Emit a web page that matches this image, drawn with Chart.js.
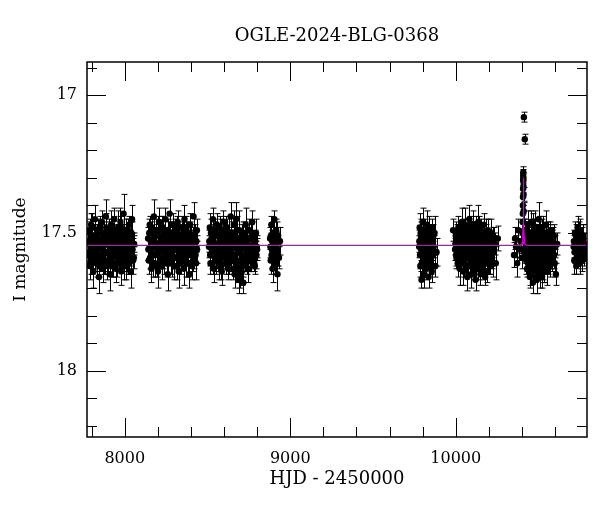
<!DOCTYPE html>
<html>
<head>
<meta charset="utf-8">
<script src="https://cdn.jsdelivr.net/npm/chart.js@4/dist/chart.umd.min.js"></script>
<style>
  html, body { margin: 0; padding: 0; background: #fff; }
</style>
</head>
<body>
<canvas id="myChart" width="600" height="512"></canvas>
<script>
// OGLE-2024-BLG-0368, I-band photometry (HJD - 2450000, mag, error), one set per season
var s1Hjd = [7779, 7783, 7788, 7792, 7797, 7802, 7806, 7811, 7816, 7820,
    7825, 7830, 7834, 7839, 7844, 7848, 7853, 7858, 7862, 7867,
    7872, 7876, 7881, 7886, 7890, 7895, 7900, 7904, 7909, 7914,
    7918, 7923, 7928, 7932, 7937, 7942, 7946, 7951, 7956, 7960,
    7965, 7970, 7974, 7979, 7984, 7988, 7993, 7998, 8002, 8007,
    8012, 8016, 8021, 8026, 8030, 8035, 8040, 8044, 8050, 8057,
    7781, 7786, 7790, 7795, 7799, 7804, 7808, 7813, 7818, 7823,
    7827, 7832, 7836, 7841, 7846, 7851, 7855, 7860, 7865, 7869,
    7874, 7879, 7883, 7888, 7893, 7897, 7902, 7907, 7911, 7916,
    7921, 7925, 7930, 7935, 7939, 7944, 7949, 7953, 7958, 7963,
    7967, 7972, 7977, 7981, 7986, 7991, 7995, 8000, 8005, 8009,
    8014, 8019, 8023, 8028, 8033, 8037, 8042, 8047, 8053, 8055];
var s1Mag = [17.58, 17.49, 17.62, 17.53, 17.47, 17.60, 17.55, 17.64, 17.51, 17.45,
    17.57, 17.61, 17.50, 17.54, 17.66, 17.48, 17.59, 17.52, 17.46, 17.63,
    17.55, 17.50, 17.60, 17.44, 17.57, 17.62, 17.53, 17.49, 17.65, 17.56,
    17.47, 17.59, 17.52, 17.61, 17.45, 17.54, 17.63, 17.50, 17.58, 17.48,
    17.60, 17.53, 17.46, 17.64, 17.51, 17.57, 17.43, 17.62, 17.55, 17.49,
    17.59, 17.52, 17.61, 17.47, 17.56, 17.64, 17.50, 17.45, 17.60, 17.54,
    17.53, 17.57, 17.50, 17.61, 17.55, 17.48, 17.59, 17.52, 17.56, 17.60,
    17.51, 17.54, 17.58, 17.49, 17.62, 17.53, 17.56, 17.50, 17.59, 17.55,
    17.61, 17.52, 17.57, 17.48, 17.54, 17.60, 17.51, 17.58, 17.53, 17.56,
    17.50, 17.62, 17.55, 17.49, 17.58, 17.52, 17.57, 17.61, 17.54, 17.51,
    17.56, 17.59, 17.48, 17.53, 17.60, 17.55, 17.51, 17.58, 17.62, 17.52,
    17.57, 17.49, 17.55, 17.61, 17.53, 17.58, 17.51, 17.56, 17.54, 17.59];
var s1Err = [0.04, 0.03, 0.05, 0.04, 0.04, 0.05, 0.03, 0.06, 0.04, 0.05,
    0.04, 0.05, 0.03, 0.04, 0.06, 0.04, 0.05, 0.03, 0.04, 0.05,
    0.03, 0.04, 0.05, 0.06, 0.04, 0.05, 0.03, 0.04, 0.06, 0.04,
    0.05, 0.04, 0.03, 0.05, 0.04, 0.04, 0.05, 0.03, 0.04, 0.06,
    0.04, 0.03, 0.05, 0.05, 0.04, 0.04, 0.07, 0.05, 0.03, 0.04,
    0.05, 0.04, 0.04, 0.03, 0.04, 0.06, 0.04, 0.05, 0.05, 0.04,
    0.04, 0.04, 0.05, 0.04, 0.03, 0.05, 0.04, 0.04, 0.05, 0.04,
    0.03, 0.04, 0.05, 0.04, 0.04, 0.05, 0.04, 0.03, 0.04, 0.05,
    0.04, 0.04, 0.03, 0.05, 0.04, 0.04, 0.05, 0.04, 0.03, 0.04,
    0.05, 0.04, 0.04, 0.05, 0.04, 0.03, 0.04, 0.05, 0.04, 0.04,
    0.04, 0.05, 0.04, 0.03, 0.04, 0.05, 0.04, 0.04, 0.05, 0.04,
    0.03, 0.04, 0.05, 0.04, 0.04, 0.04, 0.05, 0.04, 0.03, 0.04];

var s2Hjd = [8141, 8145, 8151, 8155, 8161, 8166, 8170, 8176, 8180, 8186,
    8191, 8195, 8201, 8206, 8210, 8216, 8220, 8225, 8231, 8235,
    8240, 8246, 8251, 8255, 8260, 8266, 8271, 8275, 8281, 8285,
    8290, 8296, 8300, 8306, 8311, 8315, 8320, 8326, 8330, 8335,
    8341, 8345, 8350, 8356, 8361, 8365, 8371, 8375, 8380, 8386,
    8390, 8395, 8401, 8405, 8410, 8416, 8420, 8425, 8431, 8436,
    8143, 8148, 8153, 8158, 8163, 8168, 8173, 8178, 8183, 8188,
    8193, 8198, 8203, 8208, 8213, 8218, 8223, 8228, 8233, 8238,
    8243, 8248, 8253, 8258, 8263, 8268, 8273, 8278, 8283, 8288,
    8293, 8298, 8303, 8308, 8313, 8318, 8323, 8328, 8333, 8338,
    8343, 8348, 8353, 8358, 8363, 8368, 8373, 8378, 8383, 8388,
    8393, 8398, 8403, 8408, 8413, 8418, 8423, 8428, 8433, 8437];
var s2Mag = [17.52, 17.60, 17.47, 17.56, 17.63, 17.50, 17.58, 17.44, 17.61, 17.54,
    17.49, 17.57, 17.64, 17.51, 17.46, 17.59, 17.53, 17.62, 17.48, 17.55,
    17.60, 17.45, 17.57, 17.52, 17.65, 17.50, 17.43, 17.58, 17.54, 17.61,
    17.47, 17.55, 17.62, 17.49, 17.59, 17.53, 17.46, 17.64, 17.51, 17.57,
    17.60, 17.48, 17.54, 17.63, 17.45, 17.56, 17.61, 17.50, 17.58, 17.52,
    17.65, 17.47, 17.55, 17.62, 17.51, 17.44, 17.59, 17.54, 17.61, 17.49,
    17.56, 17.50, 17.59, 17.53, 17.48, 17.61, 17.55, 17.52, 17.58, 17.50,
    17.62, 17.54, 17.49, 17.57, 17.60, 17.52, 17.56, 17.48, 17.59, 17.54,
    17.51, 17.58, 17.55, 17.61, 17.49, 17.56, 17.53, 17.60, 17.50, 17.57,
    17.54, 17.59, 17.51, 17.56, 17.62, 17.48, 17.55, 17.52, 17.58, 17.60,
    17.53, 17.57, 17.50, 17.55, 17.59, 17.52, 17.48, 17.56, 17.61, 17.54,
    17.50, 17.58, 17.53, 17.57, 17.60, 17.55, 17.51, 17.58, 17.53, 17.56];
var s2Err = [0.04, 0.05, 0.03, 0.04, 0.05, 0.04, 0.04, 0.06, 0.05, 0.03,
    0.04, 0.04, 0.06, 0.03, 0.05, 0.04, 0.04, 0.05, 0.04, 0.03,
    0.05, 0.04, 0.04, 0.03, 0.06, 0.04, 0.05, 0.04, 0.03, 0.05,
    0.04, 0.03, 0.05, 0.04, 0.04, 0.05, 0.04, 0.06, 0.03, 0.04,
    0.05, 0.04, 0.03, 0.06, 0.05, 0.04, 0.05, 0.04, 0.04, 0.03,
    0.05, 0.04, 0.04, 0.05, 0.03, 0.05, 0.04, 0.04, 0.06, 0.04,
    0.04, 0.05, 0.04, 0.04, 0.03, 0.05, 0.04, 0.04, 0.05, 0.03,
    0.04, 0.04, 0.05, 0.04, 0.03, 0.04, 0.05, 0.04, 0.04, 0.05,
    0.03, 0.04, 0.04, 0.05, 0.04, 0.04, 0.03, 0.05, 0.04, 0.04,
    0.05, 0.04, 0.03, 0.04, 0.05, 0.04, 0.04, 0.05, 0.04, 0.03,
    0.04, 0.05, 0.04, 0.04, 0.03, 0.05, 0.04, 0.04, 0.05, 0.04,
    0.04, 0.03, 0.05, 0.04, 0.04, 0.05, 0.04, 0.03, 0.04, 0.05];

var s3Hjd = [8509, 8514, 8518, 8524, 8528, 8533, 8538, 8543, 8548, 8552,
    8557, 8562, 8567, 8572, 8577, 8582, 8586, 8591, 8596, 8601,
    8606, 8611, 8615, 8620, 8625, 8630, 8635, 8640, 8644, 8649,
    8654, 8659, 8664, 8669, 8673, 8678, 8683, 8688, 8693, 8698,
    8702, 8707, 8712, 8717, 8722, 8727, 8731, 8736, 8741, 8746,
    8751, 8756, 8760, 8765, 8770, 8775, 8780, 8786, 8793, 8800,
    8511, 8516, 8521, 8526, 8531, 8536, 8540, 8545, 8550, 8555,
    8560, 8564, 8569, 8574, 8579, 8584, 8589, 8594, 8598, 8603,
    8608, 8613, 8618, 8623, 8628, 8632, 8637, 8642, 8647, 8652,
    8657, 8661, 8666, 8671, 8676, 8681, 8686, 8690, 8695, 8700,
    8705, 8710, 8714, 8719, 8724, 8729, 8734, 8739, 8743, 8748,
    8753, 8758, 8763, 8768, 8772, 8777, 8783, 8789, 8796, 8798];
var s3Mag = [17.55, 17.48, 17.61, 17.52, 17.58, 17.45, 17.63, 17.50, 17.56, 17.60,
    17.47, 17.54, 17.62, 17.51, 17.57, 17.49, 17.64, 17.53, 17.46, 17.59,
    17.52, 17.61, 17.48, 17.56, 17.63, 17.50, 17.55, 17.44, 17.60, 17.53,
    17.58, 17.47, 17.65, 17.51, 17.45, 17.62, 17.54, 17.67, 17.49, 17.66,
    17.56, 17.64, 17.50, 17.68, 17.53, 17.59, 17.47, 17.61, 17.55, 17.63,
    17.49, 17.57, 17.52, 17.60, 17.46, 17.58, 17.54, 17.62, 17.50, 17.56,
    17.53, 17.58, 17.50, 17.56, 17.61, 17.52, 17.57, 17.49, 17.59, 17.54,
    17.51, 17.60, 17.55, 17.48, 17.57, 17.62, 17.53, 17.56, 17.50, 17.58,
    17.55, 17.49, 17.59, 17.52, 17.57, 17.61, 17.54, 17.50, 17.56, 17.60,
    17.63, 17.52, 17.58, 17.55, 17.61, 17.49, 17.64, 17.57, 17.60, 17.53,
    17.58, 17.51, 17.62, 17.55, 17.59, 17.50, 17.56, 17.53, 17.60, 17.57,
    17.52, 17.59, 17.55, 17.50, 17.57, 17.54, 17.61, 17.53, 17.58, 17.55];
var s3Err = [0.04, 0.05, 0.04, 0.03, 0.05, 0.04, 0.05, 0.04, 0.03, 0.05,
    0.04, 0.04, 0.05, 0.03, 0.06, 0.04, 0.05, 0.04, 0.04, 0.03,
    0.05, 0.04, 0.03, 0.05, 0.04, 0.06, 0.04, 0.05, 0.04, 0.04,
    0.03, 0.05, 0.05, 0.04, 0.06, 0.04, 0.03, 0.05, 0.07, 0.04,
    0.04, 0.05, 0.04, 0.04, 0.03, 0.05, 0.06, 0.04, 0.04, 0.05,
    0.04, 0.03, 0.05, 0.04, 0.04, 0.05, 0.04, 0.03, 0.05, 0.04,
    0.04, 0.04, 0.05, 0.03, 0.04, 0.05, 0.04, 0.04, 0.05, 0.04,
    0.03, 0.04, 0.05, 0.04, 0.04, 0.05, 0.04, 0.03, 0.04, 0.05,
    0.04, 0.05, 0.04, 0.04, 0.03, 0.04, 0.05, 0.04, 0.04, 0.05,
    0.04, 0.04, 0.03, 0.05, 0.04, 0.05, 0.04, 0.04, 0.06, 0.04,
    0.05, 0.04, 0.04, 0.03, 0.05, 0.04, 0.04, 0.05, 0.04, 0.04,
    0.03, 0.05, 0.04, 0.04, 0.05, 0.04, 0.03, 0.04, 0.05, 0.04];

var s4Hjd = [8878, 8882, 8886, 8889, 8893, 8897, 8900, 8904, 8908, 8912,
    8915, 8919, 8923, 8927, 8932, 8938,
    8880, 8884, 8887, 8891, 8895, 8902, 8906, 8910, 8917, 8925];
var s4Mag = [17.52, 17.60, 17.47, 17.56, 17.63, 17.50, 17.58, 17.45, 17.54, 17.61,
    17.49, 17.57, 17.65, 17.51, 17.59, 17.53,
    17.55, 17.51, 17.58, 17.53, 17.57, 17.52, 17.60, 17.55, 17.50, 17.57];
var s4Err = [0.04, 0.05, 0.03, 0.04, 0.05, 0.04, 0.04, 0.03, 0.05, 0.04,
    0.04, 0.05, 0.06, 0.03, 0.04, 0.05,
    0.04, 0.04, 0.05, 0.04, 0.03, 0.04, 0.05, 0.04, 0.04, 0.05];

var s5Hjd = [9779, 9782, 9786, 9789, 9793, 9797, 9800, 9804, 9807, 9811,
    9815, 9818, 9822, 9826, 9829, 9833, 9836, 9840, 9844, 9847,
    9851, 9855, 9859, 9863, 9867, 9872, 9877, 9884,
    9780, 9784, 9788, 9791, 9795, 9799, 9802, 9806, 9809, 9813,
    9817, 9820, 9824, 9828, 9831, 9838, 9842, 9849, 9857, 9865];
var s5Mag = [17.55, 17.48, 17.62, 17.51, 17.67, 17.58, 17.46, 17.60, 17.53, 17.65,
    17.50, 17.57, 17.63, 17.47, 17.59, 17.54, 17.66, 17.49, 17.61, 17.56,
    17.52, 17.64, 17.48, 17.58, 17.55, 17.50, 17.62, 17.57,
    17.53, 17.58, 17.50, 17.56, 17.61, 17.52, 17.57, 17.54, 17.60, 17.49,
    17.55, 17.62, 17.51, 17.58, 17.53, 17.57, 17.52, 17.60, 17.55, 17.51];
var s5Err = [0.04, 0.05, 0.04, 0.06, 0.03, 0.04, 0.05, 0.04, 0.04, 0.05,
    0.03, 0.05, 0.04, 0.05, 0.04, 0.03, 0.04, 0.05, 0.04, 0.04,
    0.05, 0.04, 0.03, 0.05, 0.04, 0.06, 0.04, 0.05,
    0.04, 0.05, 0.04, 0.04, 0.05, 0.03, 0.04, 0.05, 0.04, 0.04,
    0.05, 0.04, 0.04, 0.03, 0.05, 0.04, 0.04, 0.05, 0.04, 0.04];

var s6Hjd = [9984,
    9996, 10000, 10004, 10008, 10012, 10016, 10020, 10024, 10029, 10033,
    10037, 10041, 10045, 10049, 10053, 10058, 10062, 10066, 10070, 10074,
    10078, 10082, 10087, 10091, 10095, 10099, 10103, 10107, 10111, 10116,
    10120, 10124, 10128, 10132, 10136, 10140, 10145, 10149, 10153, 10157,
    10161, 10165, 10169, 10174, 10178, 10182, 10186, 10190, 10194, 10198,
    10203, 10207, 10212, 10217, 10222, 10228, 10234, 10242,
    10254,
    9998, 10002, 10006, 10010, 10014, 10018, 10022, 10026, 10031, 10035,
    10039, 10043, 10047, 10051, 10056, 10060, 10064, 10068, 10072, 10076,
    10080, 10085, 10089, 10093, 10097, 10101, 10105, 10109, 10114, 10118,
    10122, 10126, 10130, 10134, 10138, 10143, 10147, 10151, 10155, 10159,
    10163, 10167, 10171, 10176, 10180, 10184, 10188, 10192, 10196, 10200,
    10205, 10209, 10214, 10219, 10225, 10231, 10237, 10110, 10150, 10090];
var s6Mag = [17.49,
    17.56, 17.51, 17.59, 17.53, 17.61, 17.48, 17.57, 17.63, 17.50, 17.55,
    17.46, 17.60, 17.64, 17.52, 17.58, 17.47, 17.62, 17.54, 17.66, 17.49,
    17.57, 17.45, 17.61, 17.53, 17.65, 17.50, 17.59, 17.47, 17.63, 17.55,
    17.67, 17.48, 17.56, 17.62, 17.46, 17.60, 17.52, 17.65, 17.49, 17.58,
    17.54, 17.63, 17.47, 17.59, 17.66, 17.51, 17.57, 17.64, 17.49, 17.60,
    17.53, 17.62, 17.50, 17.58, 17.55, 17.61, 17.52, 17.61,
    17.52,
    17.54, 17.58, 17.52, 17.56, 17.50, 17.59, 17.55, 17.52, 17.60, 17.57,
    17.51, 17.55, 17.49, 17.61, 17.56, 17.53, 17.58, 17.50, 17.62, 17.55,
    17.52, 17.59, 17.48, 17.56, 17.61, 17.54, 17.50, 17.58, 17.53, 17.63,
    17.57, 17.51, 17.60, 17.55, 17.49, 17.58, 17.62, 17.53, 17.56, 17.51,
    17.59, 17.55, 17.61, 17.52, 17.57, 17.50, 17.58, 17.54, 17.60, 17.56,
    17.53, 17.57, 17.55, 17.59, 17.52, 17.56, 17.54, 17.57, 17.52, 17.59];
var s6Err = [0.04,
    0.04, 0.05, 0.04, 0.03, 0.05, 0.04, 0.04, 0.06, 0.03, 0.04,
    0.05, 0.04, 0.05, 0.03, 0.04, 0.06, 0.04, 0.04, 0.05, 0.04,
    0.03, 0.05, 0.04, 0.04, 0.05, 0.04, 0.03, 0.05, 0.04, 0.05,
    0.04, 0.04, 0.03, 0.05, 0.06, 0.04, 0.05, 0.04, 0.04, 0.03,
    0.05, 0.04, 0.04, 0.05, 0.03, 0.04, 0.05, 0.04, 0.04, 0.05,
    0.04, 0.03, 0.05, 0.04, 0.04, 0.05, 0.04, 0.06,
    0.045,
    0.04, 0.04, 0.05, 0.04, 0.03, 0.04, 0.05, 0.04, 0.04, 0.05,
    0.04, 0.03, 0.04, 0.05, 0.04, 0.04, 0.05, 0.03, 0.04, 0.04,
    0.05, 0.04, 0.04, 0.03, 0.05, 0.04, 0.04, 0.05, 0.04, 0.04,
    0.03, 0.05, 0.04, 0.04, 0.05, 0.04, 0.03, 0.04, 0.05, 0.04,
    0.04, 0.05, 0.04, 0.03, 0.04, 0.05, 0.04, 0.04, 0.05, 0.04,
    0.04, 0.03, 0.05, 0.04, 0.04, 0.05, 0.04, 0.04, 0.05, 0.04];

var s7Hjd = [10352, 10358, 10364, 10371, 10378, 10385, 10392, 10398,
    10420, 10424, 10427, 10431, 10434, 10438, 10441, 10445, 10448, 10452,
    10455, 10459, 10462, 10466, 10469, 10473, 10476, 10480, 10483, 10487,
    10490, 10494, 10497, 10501, 10504, 10508, 10511, 10515, 10518, 10522,
    10525, 10529, 10532, 10536, 10539, 10543, 10546, 10550, 10553, 10557,
    10560, 10564, 10567, 10571, 10575, 10579, 10583, 10588, 10593, 10598,
    10605, 10613,
    10422, 10425, 10429, 10432, 10436, 10439, 10443, 10446, 10450, 10453,
    10457, 10460, 10464, 10467, 10471, 10474, 10478, 10481, 10485, 10488,
    10492, 10495, 10499, 10502, 10506, 10509, 10513, 10516, 10520, 10523,
    10527, 10530, 10534, 10537, 10541, 10544, 10548, 10551, 10555, 10558,
    10562, 10565, 10569, 10573, 10577, 10581, 10586, 10590, 10595, 10602,
    10419, 10421, 10426, 10433, 10447, 10468, 10489, 10510, 10531, 10552];
var s7Mag = [17.58, 17.52, 17.55, 17.61, 17.49, 17.56, 17.53, 17.59,
    17.49, 17.58, 17.52, 17.63, 17.47, 17.56, 17.60, 17.51, 17.66, 17.54,
    17.46, 17.61, 17.53, 17.68, 17.50, 17.57, 17.64, 17.48, 17.59, 17.55,
    17.67, 17.51, 17.62, 17.45, 17.57, 17.65, 17.50, 17.60, 17.53, 17.66,
    17.48, 17.58, 17.63, 17.52, 17.56, 17.47, 17.61, 17.54, 17.64, 17.50,
    17.59, 17.55, 17.62, 17.49, 17.57, 17.53, 17.60, 17.56, 17.51, 17.61,
    17.65, 17.54,
    17.55, 17.51, 17.59, 17.54, 17.61, 17.50, 17.57, 17.53, 17.60, 17.56,
    17.52, 17.58, 17.55, 17.62, 17.49, 17.57, 17.53, 17.60, 17.56, 17.51,
    17.59, 17.54, 17.63, 17.50, 17.57, 17.61, 17.53, 17.56, 17.49, 17.59,
    17.55, 17.62, 17.52, 17.58, 17.54, 17.60, 17.50, 17.57, 17.55, 17.61,
    17.53, 17.58, 17.51, 17.56, 17.60, 17.54, 17.57, 17.52, 17.58, 17.55,
    17.52, 17.57, 17.60, 17.50, 17.64, 17.47, 17.66, 17.48, 17.63, 17.58];
var s7Err = [0.045, 0.04, 0.04, 0.05, 0.04, 0.04, 0.045, 0.04,
    0.04, 0.05, 0.04, 0.03, 0.05, 0.04, 0.06, 0.04, 0.04, 0.05,
    0.04, 0.05, 0.03, 0.04, 0.05, 0.04, 0.04, 0.06, 0.04, 0.03,
    0.05, 0.04, 0.04, 0.06, 0.03, 0.05, 0.04, 0.04, 0.05, 0.04,
    0.04, 0.03, 0.05, 0.04, 0.04, 0.05, 0.04, 0.03, 0.05, 0.04,
    0.04, 0.05, 0.04, 0.03, 0.05, 0.04, 0.04, 0.05, 0.04, 0.05,
    0.04, 0.04,
    0.04, 0.04, 0.05, 0.04, 0.03, 0.04, 0.05, 0.04, 0.04, 0.05,
    0.04, 0.03, 0.04, 0.05, 0.04, 0.04, 0.05, 0.04, 0.03, 0.04,
    0.05, 0.04, 0.04, 0.03, 0.05, 0.04, 0.04, 0.05, 0.04, 0.04,
    0.03, 0.05, 0.04, 0.04, 0.05, 0.04, 0.03, 0.04, 0.05, 0.04,
    0.04, 0.05, 0.04, 0.04, 0.03, 0.05, 0.04, 0.04, 0.05, 0.04,
    0.04, 0.04, 0.05, 0.04, 0.05, 0.04, 0.06, 0.04, 0.05, 0.04];

// the event itself
var peakHjd = [10403, 10404, 10405, 10405.5, 10406, 10406.5, 10407, 10407.5, 10408, 10408.5,
    10409, 10409.5, 10410, 10411.5, 10417];
var peakMag = [17.50, 17.46, 17.43, 17.40, 17.37, 17.34, 17.31, 17.29, 17.28, 17.30,
    17.33, 17.36, 17.42, 17.08, 17.16];
var peakErr = [0.04, 0.035, 0.03, 0.03, 0.03, 0.025, 0.025, 0.02, 0.02, 0.02,
    0.025, 0.025, 0.03, 0.018, 0.018];

var s8Hjd = [10712, 10716, 10720, 10724, 10728, 10732, 10736, 10740, 10744, 10748,
    10752, 10756, 10760, 10764, 10768, 10773, 10778, 10784,
    10714, 10718, 10722, 10726, 10730, 10734, 10738, 10742, 10746, 10750,
    10754, 10762, 10770, 10780];
var s8Mag = [17.55, 17.60, 17.50, 17.57, 17.62, 17.52, 17.48, 17.58, 17.54, 17.61,
    17.49, 17.56, 17.53, 17.60, 17.51, 17.57, 17.54, 17.59,
    17.53, 17.57, 17.55, 17.51, 17.59, 17.55, 17.53, 17.56, 17.50, 17.58,
    17.54, 17.57, 17.52, 17.56];
var s8Err = [0.04, 0.05, 0.04, 0.04, 0.03, 0.05, 0.04, 0.04, 0.05, 0.04,
    0.04, 0.03, 0.05, 0.04, 0.04, 0.05, 0.04, 0.04,
    0.04, 0.04, 0.05, 0.04, 0.03, 0.04, 0.05, 0.04, 0.04, 0.05,
    0.04, 0.04, 0.05, 0.04];

// model light curve (magenta)
var modelHjd = [7772, 10390, 10398, 10402, 10405, 10407, 10408, 10409, 10410, 10411,
    10413, 10416, 10420, 10428, 10793];
var modelMag = [17.545, 17.545, 17.542, 17.535, 17.515, 17.47, 17.40, 17.30, 17.40, 17.47,
    17.515, 17.535, 17.542, 17.545, 17.545];

// axes
var xTicks = [7800, 8000, 8200, 8400, 8600, 8800, 9000, 9200, 9400, 9600, 9800,
    10000, 10200, 10400, 10600];
var xLabels = [8000, 9000, 10000];
var yTicks = [16.9, 17.0, 17.1, 17.2, 17.3, 17.4, 17.5, 17.6, 17.7, 17.8, 17.9,
    18.0, 18.1, 18.2];
var yLabels = [17, 17.5, 18];

var seasons = [
    [s1Hjd, s1Mag, s1Err], [s2Hjd, s2Mag, s2Err], [s3Hjd, s3Mag, s3Err],
    [s4Hjd, s4Mag, s4Err], [s5Hjd, s5Mag, s5Err], [s6Hjd, s6Mag, s6Err],
    [s7Hjd, s7Mag, s7Err], [peakHjd, peakMag, peakErr], [s8Hjd, s8Mag, s8Err]
];

var obs = [];
seasons.forEach(function (s) {
    s[0].forEach(function (t, i) {
        obs.push({x: t, y: s[1][i], err: s[2][i]});
    });
});
var model = modelHjd.map(function (t, i) { return {x: t, y: modelMag[i]}; });

function isLabel(list, v) {
    return list.some(function (l) { return Math.abs(l - v) < 1e-6; });
}

var serif = '"DejaVu Serif", "Liberation Serif", serif';
Chart.defaults.color = '#000';
Chart.defaults.font.family = serif;

// error bars, under the points
var errorBars = {
    id: 'errorBars',
    beforeDatasetsDraw: function (chart) {
        var ctx = chart.ctx, a = chart.chartArea;
        var xs = chart.scales.x, ys = chart.scales.y;
        ctx.save();
        ctx.beginPath();
        ctx.rect(a.left, a.top, a.right - a.left, a.bottom - a.top);
        ctx.clip();
        ctx.strokeStyle = '#000';
        ctx.lineWidth = 1;
        ctx.beginPath();
        chart.data.datasets[1].data.forEach(function (p) {
            var px = Math.round(xs.getPixelForValue(p.x)) + 0.5;
            var y1 = ys.getPixelForValue(p.y - p.err);
            var y2 = ys.getPixelForValue(p.y + p.err);
            ctx.moveTo(px, y1); ctx.lineTo(px, y2);
            ctx.moveTo(px - 3, y1); ctx.lineTo(px + 3, y1);
            ctx.moveTo(px - 3, y2); ctx.lineTo(px + 3, y2);
        });
        ctx.stroke();
        ctx.restore();
    }
};

// box, inward ticks on all four sides, title
var frame = {
    id: 'frame',
    afterDraw: function (chart) {
        var ctx = chart.ctx, a = chart.chartArea;
        var xs = chart.scales.x, ys = chart.scales.y;
        ctx.save();
        ctx.strokeStyle = '#000';
        ctx.lineWidth = 1;
        ctx.beginPath();
        xs.ticks.forEach(function (t) {
            var px = Math.round(xs.getPixelForValue(t.value)) + 0.5;
            var len = isLabel(xLabels, t.value) ? 19 : 10;
            ctx.moveTo(px, a.bottom); ctx.lineTo(px, a.bottom - len);
            ctx.moveTo(px, a.top); ctx.lineTo(px, a.top + len);
        });
        ys.ticks.forEach(function (t) {
            var py = Math.round(ys.getPixelForValue(t.value)) + 0.5;
            var len = isLabel(yLabels, t.value) ? 19 : 10;
            ctx.moveTo(a.left, py); ctx.lineTo(a.left + len, py);
            ctx.moveTo(a.right, py); ctx.lineTo(a.right - len, py);
        });
        ctx.stroke();
        ctx.lineWidth = 1.5;
        ctx.strokeRect(a.left, a.top, a.right - a.left, a.bottom - a.top);

        ctx.fillStyle = '#000';
        ctx.font = '18px ' + serif;
        ctx.textAlign = 'center';
        ctx.textBaseline = 'alphabetic';
        ctx.fillText('OGLE-2024-BLG-0368', (a.left + a.right) / 2, 40.5);
        ctx.restore();
    }
};

var ctx = document.getElementById('myChart').getContext('2d');
var myChart = new Chart(ctx, {
    type: 'scatter',
    data: {
        datasets: [{
            label: 'model',
            data: model,
            showLine: true,
            borderColor: '#d000d0',
            borderWidth: 1.3,
            pointRadius: 0,
            tension: 0
        }, {
            label: 'OGLE I',
            data: obs,
            backgroundColor: '#000',
            borderWidth: 0,
            pointRadius: 3.2
        }]
    },
    options: {
        responsive: false,
        animation: false,
        layout: {
            padding: { top: 62, right: 13, bottom: 0, left: 0 }
        },
        plugins: {
            legend: { display: false },
            tooltip: { enabled: false }
        },
        scales: {
            x: {
                type: 'linear',
                min: 7772,
                max: 10793,
                grid: { display: false, drawTicks: false },
                border: { display: false },
                afterBuildTicks: function (s) {
                    s.ticks = xTicks.map(function (v) { return {value: v}; });
                },
                ticks: {
                    autoSkip: false,
                    maxRotation: 0,
                    padding: 12,
                    font: { size: 16 },
                    callback: function (v) { return isLabel(xLabels, v) ? String(v) : ''; }
                },
                title: {
                    display: true,
                    text: 'HJD - 2450000',
                    font: { size: 18 },
                    padding: { top: 0, bottom: 22 }
                },
                afterFit: function (s) { s.height = 75; }
            },
            y: {
                type: 'linear',
                reverse: true,
                min: 16.88,
                max: 18.24,
                grid: { display: false, drawTicks: false },
                border: { display: false },
                afterBuildTicks: function (s) {
                    s.ticks = yTicks.map(function (v) { return {value: v}; });
                },
                ticks: {
                    autoSkip: false,
                    padding: 10,
                    font: { size: 16 },
                    callback: function (v) { return isLabel(yLabels, v) ? String(v) : ''; }
                },
                title: {
                    display: true,
                    text: 'I magnitude',
                    font: { size: 17 },
                    padding: { top: 10, bottom: 0 }
                },
                afterFit: function (s) { s.width = 87; }
            }
        }
    },
    plugins: [errorBars, frame]
});
</script>
</body>
</html>
